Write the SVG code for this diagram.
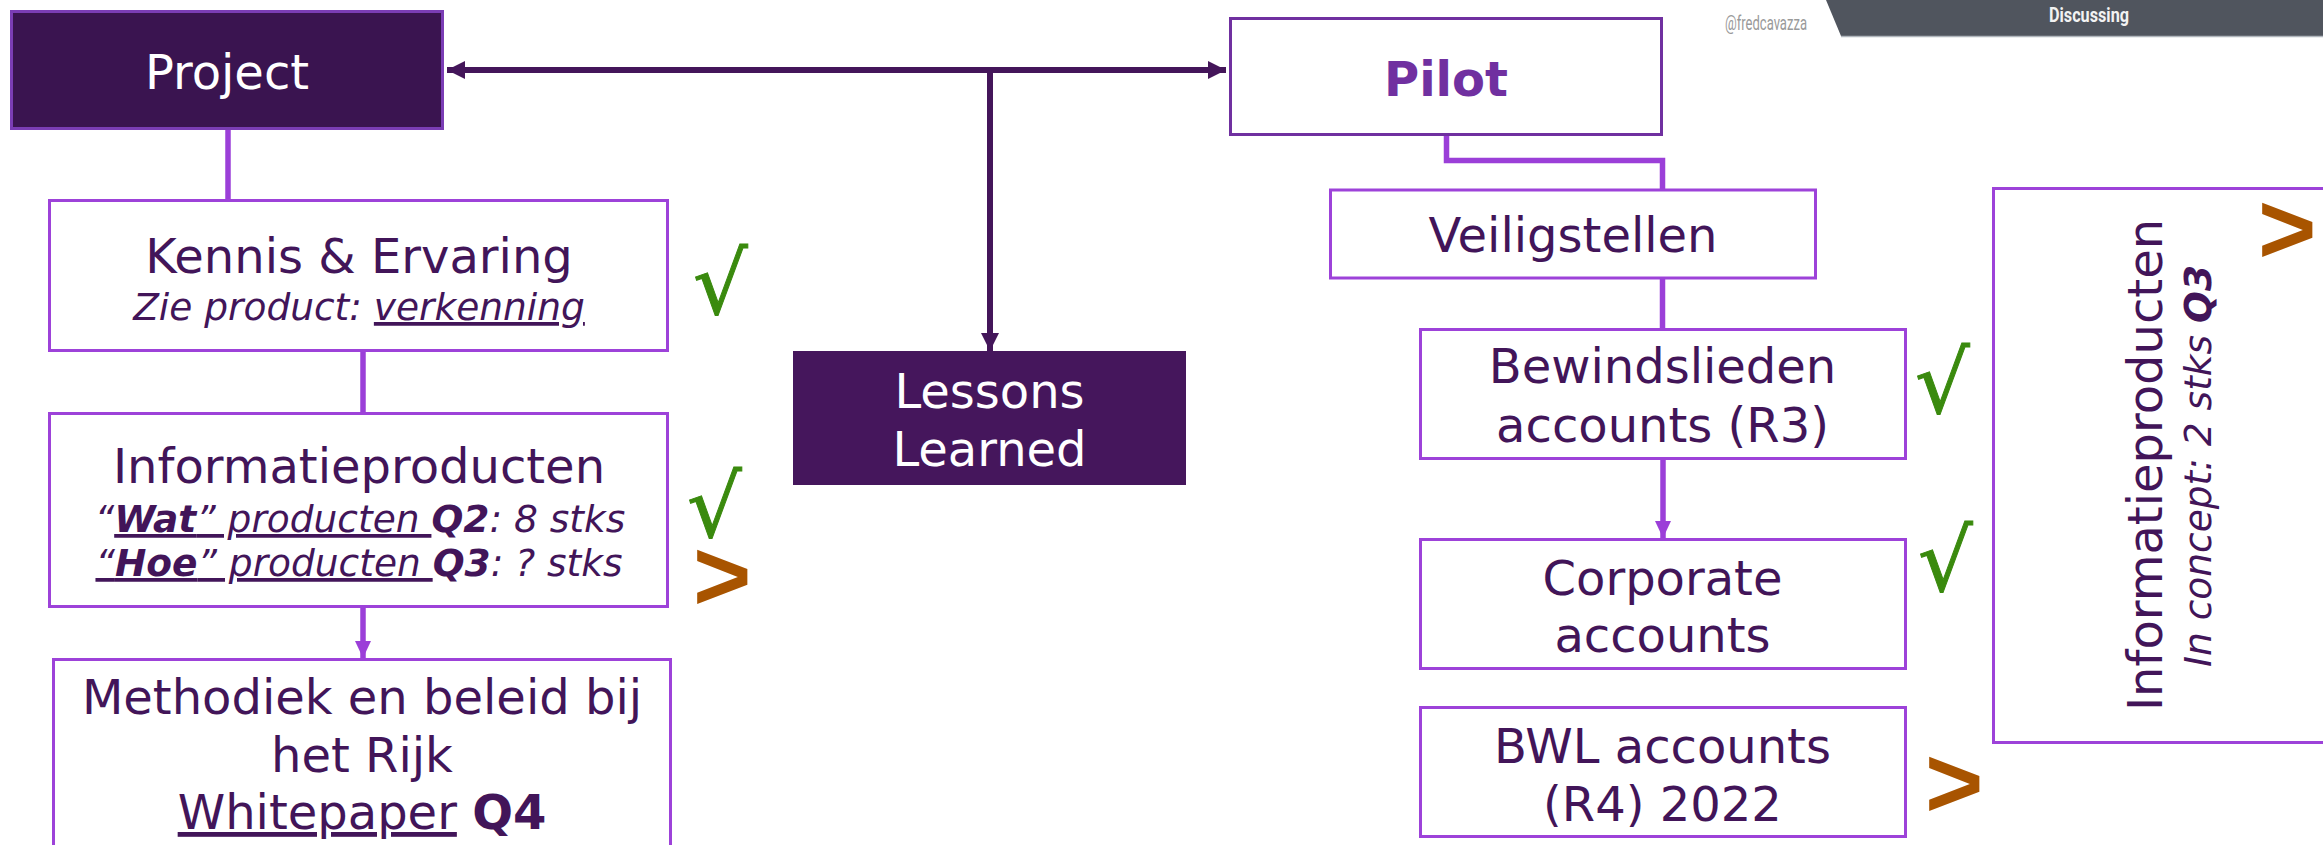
<svg xmlns="http://www.w3.org/2000/svg" width="2323" height="845" viewBox="0 0 2323 845">
<defs>
<style>
.t{font-family:"DejaVu Sans",Verdana,sans-serif;fill:#421559}
.w{font-family:"DejaVu Sans",Verdana,sans-serif;fill:#ffffff}
.m{font-size:48px}
.s{font-size:37.5px;font-style:italic}
.b{font-weight:bold}
.u{text-decoration:underline}
.box{fill:#ffffff;stroke:#9d42d9;stroke-width:3}
.dark{fill:#3a1450;stroke:#7b3db5;stroke-width:3}
.lc{fill:none;stroke:#9b3fd8;stroke-width:5.5}
.dc{fill:none;stroke:#44165a;stroke-width:6}
.ok{font-family:"DejaVu Sans",sans-serif;fill:#3a8a0e;stroke:#3a8a0e;stroke-width:1;font-size:86px}
.gt{font-family:"Liberation Sans",Arial,sans-serif;font-weight:bold;fill:#a85400;font-size:100px}
</style>
<marker id="ad" markerUnits="userSpaceOnUse" markerWidth="20" markerHeight="20" viewBox="0 0 20 20" refX="18" refY="10" orient="auto-start-reverse">
<path d="M0,1 L18,10 L0,19 Z" fill="#44165a"/>
</marker>
<marker id="ap" markerUnits="userSpaceOnUse" markerWidth="18" markerHeight="18" viewBox="0 0 18 18" refX="17" refY="9" orient="auto">
<path d="M0,1 L17,9 L0,17 Z" fill="#9b3fd8"/>
</marker>
</defs>
<rect width="2323" height="845" fill="#ffffff"/>

<g id="banner">
<polygon points="1826,0 2323,0 2323,36 1841,36" fill="#50555e"/>
<line x1="1841" y1="36.5" x2="2323" y2="36.5" stroke="#b0b6bd" stroke-width="1.5"/>
<text x="2089" y="22" text-anchor="middle" font-family="Roboto,sans-serif" font-weight="bold" font-size="20" fill="#f2f2f2" textLength="80" lengthAdjust="spacingAndGlyphs">Discussing</text>
<text x="1725" y="30" font-family="Roboto,sans-serif" font-size="21" fill="#9a9a9a" textLength="82" lengthAdjust="spacingAndGlyphs">@fredcavazza</text>
</g>

<g id="connectors">
<line class="dc" x1="1226" y1="70" x2="447" y2="70" marker-start="url(#ad)" marker-end="url(#ad)"/>
<line class="dc" x1="990" y1="70" x2="990" y2="351" marker-end="url(#ad)"/>
<line class="lc" x1="228" y1="130" x2="228" y2="199"/>
<line class="lc" x1="363" y1="352" x2="363" y2="412"/>
<line class="lc" x1="363" y1="608" x2="363" y2="658" marker-end="url(#ap)"/>
<path class="lc" d="M1446.5,136 V160.5 H1662.5 V189"/>
<line class="lc" x1="1662.5" y1="279" x2="1662.5" y2="328"/>
<line class="lc" x1="1663" y1="460" x2="1663" y2="538" marker-end="url(#ap)"/>
</g>

<g id="project">
<rect class="dark" x="11.5" y="11.5" width="431" height="117"/>
<text class="w m" x="227" y="89" text-anchor="middle">Project</text>
</g>

<g id="kennis">
<rect class="box" x="49.5" y="200.5" width="618" height="150"/>
<text class="t m" x="359" y="273" text-anchor="middle">Kennis &amp; Ervaring</text>
<text class="t s" x="359" y="320" text-anchor="middle">Zie product: <tspan class="u">verkenning</tspan></text>
<text class="ok" x="693" y="314">√</text>
</g>

<g id="informatieproducten">
<rect class="box" x="49.5" y="413.5" width="618" height="193"/>
<text class="t m" x="359" y="483" text-anchor="middle">Informatieproducten</text>
<text class="t s" x="360" y="532" text-anchor="middle">“<tspan class="u"><tspan class="b">Wat</tspan>” producten </tspan><tspan class="b">Q2</tspan>: 8 stks</text>
<text class="t s" x="359" y="576" text-anchor="middle"><tspan class="u">“<tspan class="b">Hoe</tspan>” producten </tspan><tspan class="b">Q3</tspan>: ? stks</text>
<text class="ok" x="687" y="537">√</text>
<text class="gt" x="693" y="610">&gt;</text>
</g>

<g id="methodiek">
<rect class="box" x="53.5" y="659.5" width="617" height="200"/>
<text class="t m" x="362" y="714" text-anchor="middle">Methodiek en beleid bij</text>
<text class="t m" x="362" y="772" text-anchor="middle">het Rijk</text>
<text class="t m" x="362" y="829" text-anchor="middle"><tspan class="u">Whitepaper</tspan> <tspan class="b">Q4</tspan></text>
</g>

<g id="lessons">
<rect x="793" y="351" width="393" height="134" fill="#45165c"/>
<text class="w m" x="989.5" y="408" text-anchor="middle">Lessons</text>
<text class="w m" x="989.5" y="466" text-anchor="middle">Learned</text>
</g>

<g id="pilot">
<rect x="1230.5" y="18.5" width="431" height="116" fill="#ffffff" stroke="#7030a0" stroke-width="3"/>
<text class="m b" x="1446" y="96" text-anchor="middle" font-family="DejaVu Sans,Verdana,sans-serif" fill="#7030a0">Pilot</text>
</g>

<g id="veiligstellen">
<rect class="box" x="1330.5" y="190" width="485" height="88"/>
<text class="t m" x="1573" y="252" text-anchor="middle">Veiligstellen</text>
</g>

<g id="bewindslieden">
<rect class="box" x="1420.5" y="329.5" width="485" height="129"/>
<text class="t m" x="1662.5" y="383" text-anchor="middle">Bewindslieden</text>
<text class="t m" x="1662.5" y="442" text-anchor="middle">accounts (R3)</text>
<text class="ok" x="1915" y="413">√</text>
</g>

<g id="corporate">
<rect class="box" x="1420.5" y="539.5" width="485" height="129"/>
<text class="t m" x="1662.5" y="595" text-anchor="middle">Corporate</text>
<text class="t m" x="1662.5" y="652" text-anchor="middle">accounts</text>
<text class="ok" x="1918" y="591">√</text>
</g>

<g id="bwl">
<rect class="box" x="1420.5" y="707.5" width="485" height="129"/>
<text class="t m" x="1662.5" y="763" text-anchor="middle">BWL accounts</text>
<text class="t m" x="1662.5" y="821" text-anchor="middle">(R4) 2022</text>
<text class="gt" x="1925" y="817">&gt;</text>
</g>

<g id="informatieproducten-concept">
<rect class="box" x="1993.5" y="188.5" width="345" height="554"/>
<text class="t m" transform="translate(2162,465) rotate(-90)" text-anchor="middle">Informatieproducten</text>
<text class="t s" transform="translate(2211,466) rotate(-90)" text-anchor="middle">In concept: 2 stks <tspan class="b">Q3</tspan></text>
<text class="gt" x="2258" y="263">&gt;</text>
</g>
</svg>
